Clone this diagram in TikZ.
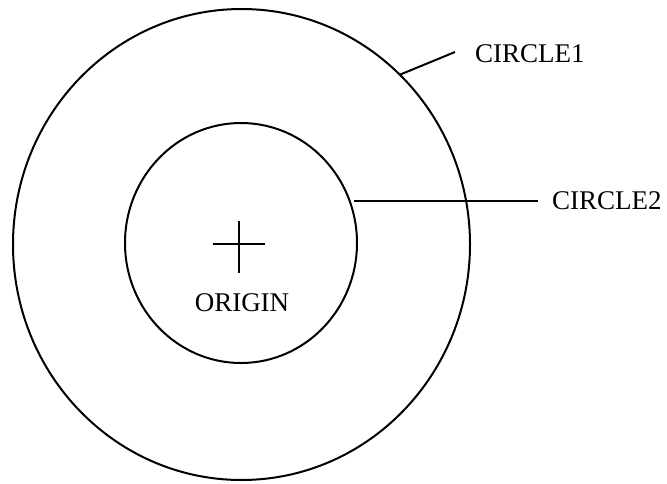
\documentclass[tikz,border=0pt]{standalone}
\usepackage{fontspec}
\setmainfont{Liberation Serif}
\usetikzlibrary{shapes.geometric}
\begin{document}
\begin{tikzpicture}[x=1pt,y=-1pt,
  ring/.style={draw=black,ellipse,inner sep=0pt,outer sep=0pt,line width=2pt},
  lbl/.style={inner sep=0pt,font=\fontsize{27}{30}\selectfont},
  lead/.style={draw=black,line width=2pt}]
\useasboundingbox[fill=white] (0,0) rectangle (667,483);
\node[ring,minimum width=457pt,minimum height=471pt] (outer) at (241.5,244.5) {};
\node[ring,minimum width=232pt,minimum height=240pt] (inner) at (241,243) {};
\coordinate (o) at (238.5,244);
\draw[lead] ([xshift=-25.5pt]o) -- ([xshift=26.5pt]o);
\draw[lead] ([yshift=23pt]o) -- ([yshift=-29pt]o);
\node[lbl] (orig) at (242,302.5) {ORIGIN};
\node[lbl,anchor=west] (c1) at (475,54) {CIRCLE1};
\node[lbl,anchor=west] (c2) at (552,201) {CIRCLE2};
\coordinate (c1end) at (455,52);
\draw[lead] (outer.47) -- (c1end);
\draw[lead,shorten >=14pt] ([xshift=-3pt]inner.east |- c2.west) -- (c2.west);
\end{tikzpicture}
\end{document}
